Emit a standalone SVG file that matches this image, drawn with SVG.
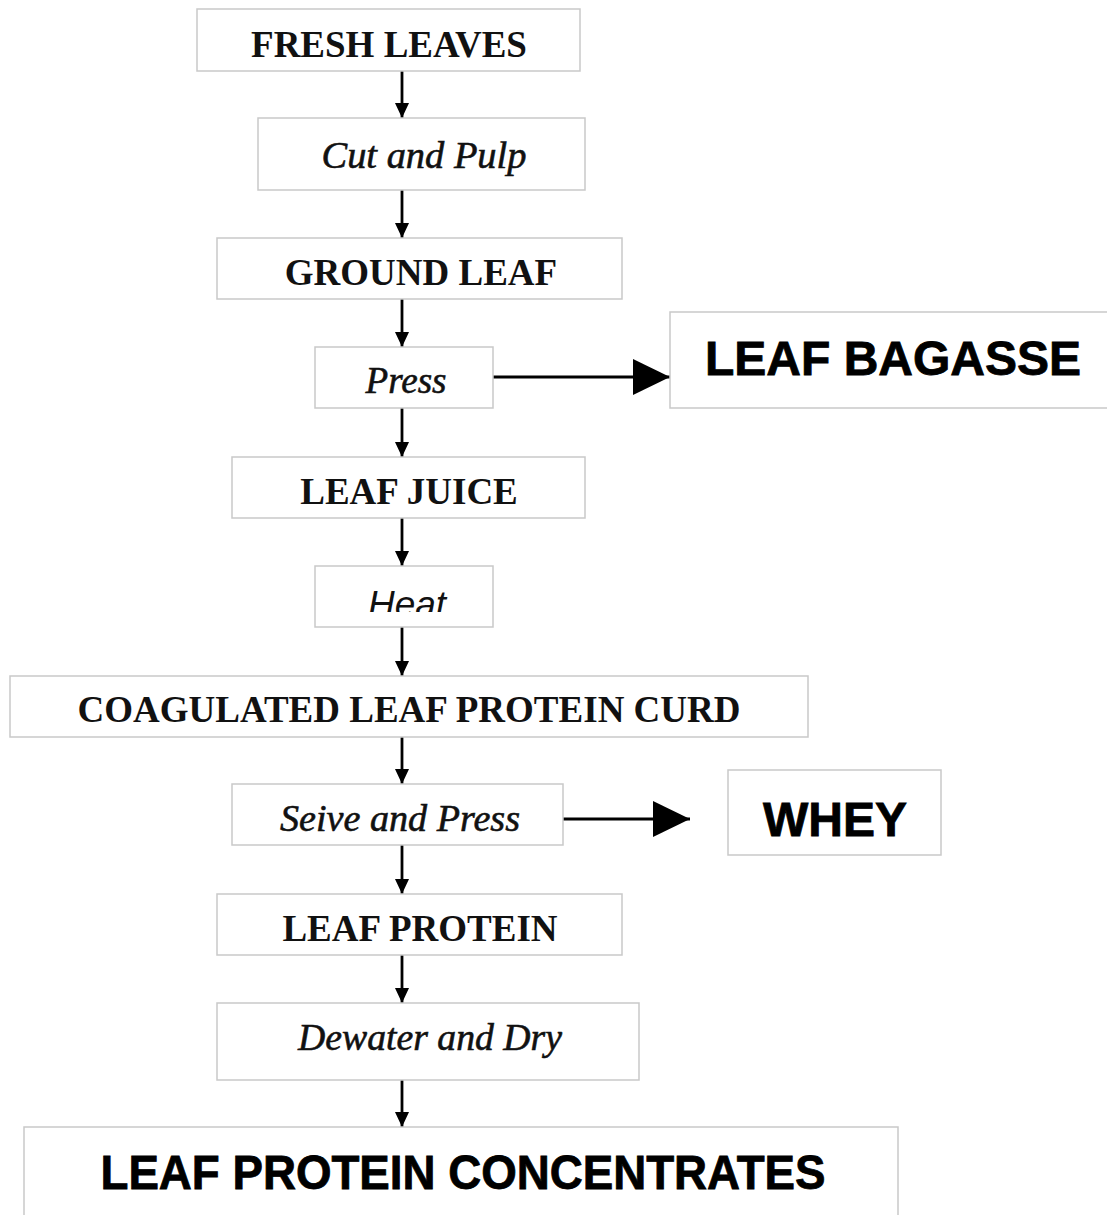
<svg xmlns="http://www.w3.org/2000/svg" width="1107" height="1215" viewBox="0 0 1107 1215">
<style>
.box{fill:#fff;stroke:#c9c9c9;stroke-width:1.5}
.tb{font-family:"Liberation Serif","Times New Roman",serif;font-weight:bold;font-size:37px;fill:#111;text-anchor:middle}
.ti{font-family:"Liberation Serif","Times New Roman",serif;font-style:italic;font-size:38px;fill:#111;text-anchor:middle;stroke:#111;stroke-width:0.6}
.sb{font-family:"Liberation Sans",Arial,sans-serif;font-weight:bold;font-size:48px;fill:#000;text-anchor:middle;stroke:#000;stroke-width:0.8}
.si{font-family:"Liberation Sans",Arial,sans-serif;font-style:italic;font-size:37px;fill:#111;text-anchor:middle}
.ln{stroke:#000;stroke-width:2.8;fill:none}
</style>
<defs>
<marker id="ah" markerUnits="userSpaceOnUse" markerWidth="15" markerHeight="14" refX="15" refY="7" orient="auto">
<path d="M0,0 L15,7 L0,14 Z" fill="#000"/>
</marker>
<marker id="bh" markerUnits="userSpaceOnUse" markerWidth="37" markerHeight="36" refX="37" refY="18" orient="auto">
<path d="M0,0 L37,18 L0,36 Z" fill="#000"/>
</marker>
<clipPath id="heatclip"><rect x="315" y="566" width="178" height="46"/></clipPath>
</defs>
<rect width="1107" height="1215" fill="#fff"/>
<g id="connectors">
<line class="ln" x1="402" y1="71" x2="402" y2="118" marker-end="url(#ah)"/>
<line class="ln" x1="402" y1="190" x2="402" y2="238" marker-end="url(#ah)"/>
<line class="ln" x1="402" y1="299" x2="402" y2="347" marker-end="url(#ah)"/>
<line class="ln" x1="402" y1="408" x2="402" y2="457" marker-end="url(#ah)"/>
<line class="ln" x1="402" y1="518" x2="402" y2="566" marker-end="url(#ah)"/>
<line class="ln" x1="402" y1="627" x2="402" y2="676" marker-end="url(#ah)"/>
<line class="ln" x1="402" y1="737" x2="402" y2="784" marker-end="url(#ah)"/>
<line class="ln" x1="402" y1="845" x2="402" y2="894" marker-end="url(#ah)"/>
<line class="ln" x1="402" y1="955" x2="402" y2="1003" marker-end="url(#ah)"/>
<line class="ln" x1="402" y1="1080" x2="402" y2="1127" marker-end="url(#ah)"/>
<line class="ln" x1="493" y1="377" x2="670" y2="377" marker-end="url(#bh)"/>
<line class="ln" x1="563" y1="819" x2="690" y2="819" marker-end="url(#bh)"/>
</g>
<g id="fresh-leaves"><rect class="box" x="197" y="9" width="383" height="62"/><text class="tb" x="389" y="57">FRESH LEAVES</text></g>
<g id="cut-and-pulp"><rect class="box" x="258" y="118" width="327" height="72"/><text class="ti" x="424" y="168" textLength="205" lengthAdjust="spacingAndGlyphs">Cut and Pulp</text></g>
<g id="ground-leaf"><rect class="box" x="217" y="238" width="405" height="61"/><text class="tb" x="421" y="285">GROUND LEAF</text></g>
<g id="press"><rect class="box" x="315" y="347" width="178" height="61"/><text class="ti" x="406" y="393" textLength="81" lengthAdjust="spacingAndGlyphs">Press</text></g>
<g id="leaf-bagasse"><rect class="box" x="670" y="312" width="440" height="96"/><text class="sb" x="893" y="375">LEAF BAGASSE</text></g>
<g id="leaf-juice"><rect class="box" x="232" y="457" width="353" height="61"/><text class="tb" x="409" y="504">LEAF JUICE</text></g>
<g id="heat"><rect class="box" x="315" y="566" width="178" height="61"/><text class="si" x="407" y="617" clip-path="url(#heatclip)">Heat</text></g>
<g id="coagulated-curd"><rect class="box" x="10" y="676" width="798" height="61"/><text class="tb" x="409" y="722">COAGULATED LEAF PROTEIN CURD</text></g>
<g id="seive-and-press"><rect class="box" x="232" y="784" width="331" height="61"/><text class="ti" x="400" y="831" textLength="240" lengthAdjust="spacingAndGlyphs">Seive and Press</text></g>
<g id="whey"><rect class="box" x="728" y="770" width="213" height="85"/><text class="sb" x="835" y="836">WHEY</text></g>
<g id="leaf-protein"><rect class="box" x="217" y="894" width="405" height="61"/><text class="tb" x="420" y="941">LEAF PROTEIN</text></g>
<g id="dewater-and-dry"><rect class="box" x="217" y="1003" width="422" height="77"/><text class="ti" x="430" y="1050" textLength="264" lengthAdjust="spacingAndGlyphs">Dewater and Dry</text></g>
<g id="leaf-protein-concentrates"><rect class="box" x="24" y="1127" width="874" height="100"/><text class="sb" x="463" y="1189" textLength="725" lengthAdjust="spacingAndGlyphs">LEAF PROTEIN CONCENTRATES</text></g>
</svg>
